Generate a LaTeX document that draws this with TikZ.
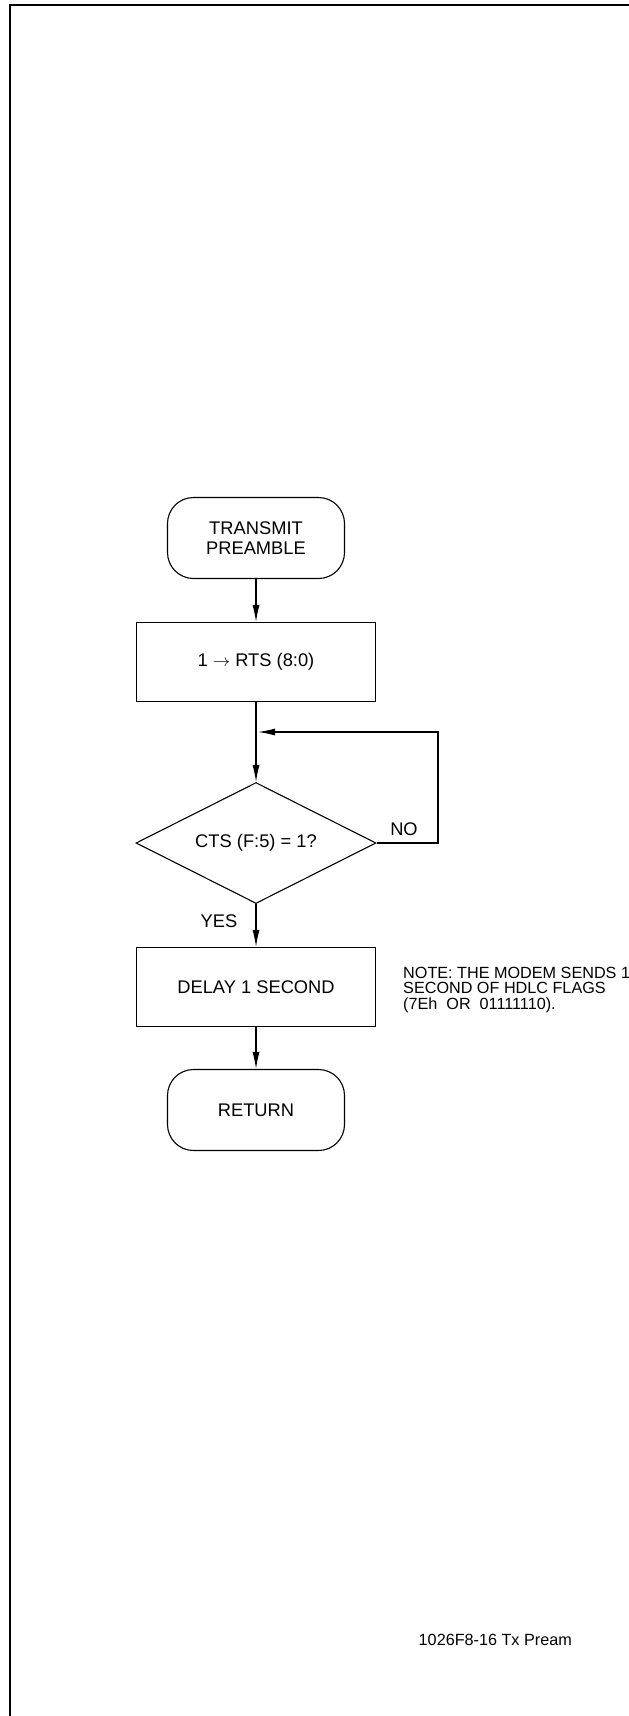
\documentclass[tikz,border=0pt]{standalone}
\usepackage{fontspec}
\setmainfont{Liberation Sans}
\usetikzlibrary{shapes.geometric,arrows.meta}
\begin{document}
\begin{tikzpicture}[x=1pt,y=-1pt,
  base/.style={draw, line width=1.1pt, inner sep=0pt, align=center,
    font=\fontsize{18.3}{19.5}\selectfont},
  term/.style={base, rectangle, rounded corners=26pt, minimum width=177pt, minimum height=81pt},
  procbox/.style={base, rectangle, minimum width=239pt, minimum height=79pt},
  decision/.style={base, diamond, aspect=2, minimum width=240pt, minimum height=121pt},
  lbl/.style={inner sep=0pt, font=\fontsize{18.3}{19.5}\selectfont},
  small/.style={inner sep=0pt, align=left, font=\fontsize{16.2}{15.5}\selectfont},
  arr/.style={line width=1.1pt, -{Latex[length=17pt,width=7pt]}},
  conn/.style={line width=1.1pt}]
\useasboundingbox (0,0) rectangle (629,1716);
% frame
\draw[line width=2pt] (10,1720) -- (10,5) -- (640,5);
% nodes
\node[term] (start) at (256,538) {TRANSMIT\\PREAMBLE};
\node[procbox] (rts) at (256,662) {1 $\rightarrow$ RTS (8:0)};
\node[decision] (cts) at (256,843) {CTS (F:5) = 1?};
\node[procbox] (delay) at (256,987) {DELAY 1 SECOND};
\node[term] (ret) at (256,1110) {RETURN};
\coordinate (loopR) at (438,732);
\coordinate (loopTip) at (258,732);
\node[lbl] (no) at (404,829) {NO};
\node[lbl] (yes) at (219,921) {YES};
\node[small, anchor=west] (note) at (403,990) {NOTE: THE MODEM SENDS 1\\SECOND OF HDLC FLAGS\\(7Eh\ \ OR\ \ 01111110).};
\node[small, anchor=east] (foot) at (572,1640) {1026F8-16 Tx Pream};
% connectors
\draw[arr] (start) -- (rts);
\draw[arr] (rts) -- (cts);
\draw[arr] (cts.east) -| (loopR) -- (loopTip);
\draw[arr] (cts) -- (delay);
\draw[arr] (delay) -- (ret);
\end{tikzpicture}
\end{document}
